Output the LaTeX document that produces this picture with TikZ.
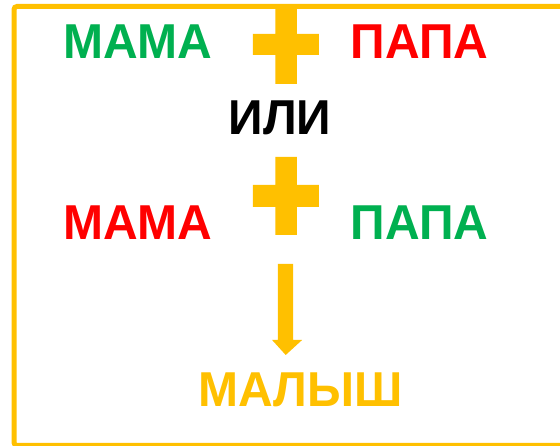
\documentclass[tikz,border=0pt]{standalone}
\usepackage{fontspec}
\setmainfont{Liberation Sans}
\definecolor{cgreen}{HTML}{00B050}
\definecolor{cred}{HTML}{FF0000}
\definecolor{cyel}{HTML}{FFC000}
\tikzset{
  word/.style={anchor=base, inner sep=0pt, font=\fontsize{49}{49}\selectfont\bfseries},
  frameline/.style={draw=cyel, line width=5pt, rounded corners=3pt},
  plusshape/.style={fill=cyel},
}
\newcommand{\sq}[1]{\scalebox{0.98}[1]{#1}}
\begin{document}
\begin{tikzpicture}[x=1pt,y=1pt]
\useasboundingbox (0,0) rectangle (560,446);
\clip (0,0) rectangle (560,446);
\fill[white] (0,0) rectangle (560,446);
% frame
\draw[frameline] (570,439.5) -- (14,439.5) -- (14,0.5) -- (570,0.5);
% row 1
\node[word, text=cgreen] (mama1) at (138,387) {\sq{МАМА}};
\node[word, text=cred] (papa1) at (419.5,387) {\sq{ПАПА}};
\fill[plusshape] (275.4,437) -- (296.8,437) -- (296.8,412) -- (318.9,412) -- (318.9,391) -- (296.8,391) -- (296.8,362) -- (275.4,362) -- (275.4,391) -- (252.9,391) -- (252.9,412) -- (275.4,412) -- cycle;
\node[word] (ili) at (280,311) {\sq{ИЛИ}};
% row 2
\node[word, text=cred] (mama2) at (138,206) {\sq{МАМА}};
\node[word, text=cgreen] (papa2) at (419.5,206) {\sq{ПАПА}};
\fill[plusshape] (275.4,289) -- (296.8,289) -- (296.8,261) -- (318.9,261) -- (318.9,239) -- (296.8,239) -- (296.8,211) -- (275.4,211) -- (275.4,239) -- (252.9,239) -- (252.9,261) -- (275.4,261) -- cycle;
% arrow
\fill[plusshape] (277.9,182) -- (293.2,182) -- (293.2,106) -- (302.1,106) -- (285.7,91) -- (272.1,106) -- (277.9,106) -- cycle;
\node[word, text=cyel] (baby) at (300.6,39) {\sq{МАЛЫШ}};
\end{tikzpicture}
\end{document}
